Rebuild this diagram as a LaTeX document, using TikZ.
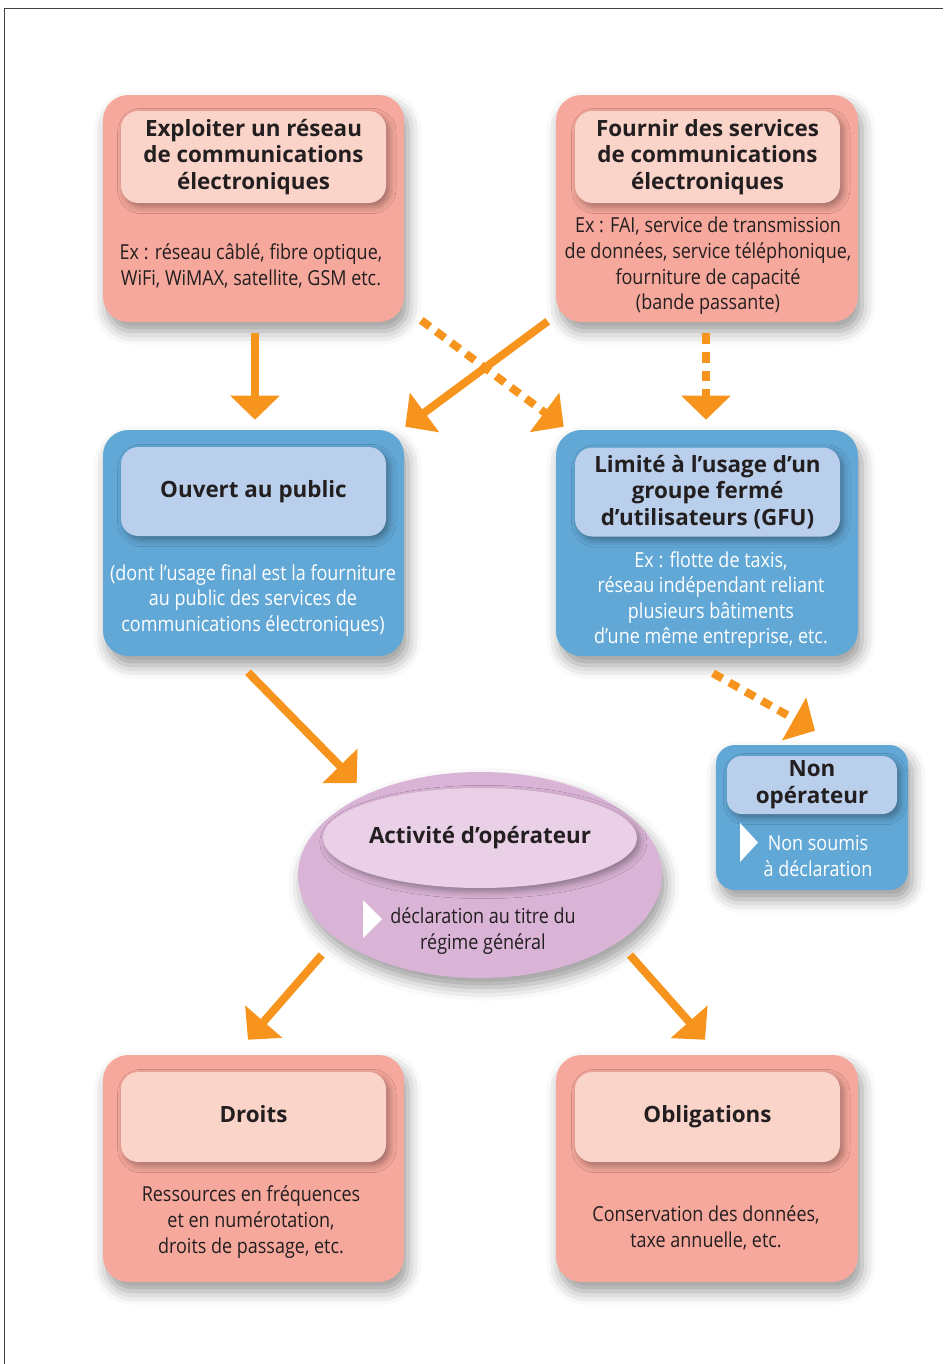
\documentclass[tikz,border=0pt]{standalone}
\usepackage{fontspec}
\setmainfont{Open Sans}
\newfontfamily\headfont{Open Sans}
\newfontfamily\bodyfont{Open Sans}[FakeStretch=0.87]
\usetikzlibrary{arrows.meta,shadows.blur,shapes.geometric}
\definecolor{salmonC}{HTML}{F6A89C}
\definecolor{pinkC}{HTML}{FAD3C9}
\definecolor{blueC}{HTML}{62A8D6}
\definecolor{lblueC}{HTML}{B9CFEB}
\definecolor{purpleC}{HTML}{DAB4D6}
\definecolor{lpurpleC}{HTML}{EAD0E6}
\definecolor{orangeC}{HTML}{F7941D}
\definecolor{textC}{HTML}{231F20}
\definecolor{borderC}{HTML}{404040}
\tikzset{
  sz/.style 2 args={minimum width={#1*0.75pt}, minimum height={#2*0.75pt}},
  bigshadow/.style={blur shadow={shadow xshift=3pt, shadow yshift=-7pt, shadow blur radius=10pt, shadow opacity=40}},
  smallshadow/.style={blur shadow={shadow xshift=2.5pt, shadow yshift=-3pt, shadow blur radius=5pt, shadow opacity=35}},
  outerbox/.style={rectangle, rounded corners=19pt, inner sep=0pt, bigshadow},
  innerbox/.style={rectangle, rounded corners=13pt, inner sep=0pt, smallshadow, align=center, text=textC,
     font=\headfont\bfseries\fontsize{16.8}{20}\selectfont},
  salmonbox/.style={outerbox, fill=salmonC},
  bluebox/.style={outerbox, fill=blueC},
  pinkhead/.style={innerbox, fill=pinkC},
  bluehead/.style={innerbox, fill=lblueC},
  bodytext/.style={align=center, inner sep=0pt, text=textC, font=\bodyfont\fontsize{15.5}{19.2}\selectfont},
  whitetext/.style={bodytext, text=white},
  arr/.style={draw=orangeC, line width=6pt, -{Triangle[width=36pt,length=18pt]}},
  dotarr/.style={arr, dash pattern=on 8pt off 6pt},
}
\begin{document}
\begin{tikzpicture}[x=0.75pt, y=-0.75pt]
\useasboundingbox (0,0) rectangle (943,1364);
\draw[borderC, line width=0.8pt] (4.5,1364) -- (4.5,8.5) -- (943,8.5);

% top row
\node[salmonbox, sz={301}{227}] (tl) at (253.5,208.5) {};
\node[pinkhead, sz={265}{92}] (tlh) at (253.5,157) {Exploiter un réseau\\de communications\\électroniques};
\node[bodytext] (tlb) at (251,266) {Ex : réseau câblé, fibre optique,\\WiFi, WiMAX, satellite, GSM etc.};

\node[salmonbox, sz={302}{227}] (tr) at (707,208.5) {};
\node[pinkhead, sz={265}{92}] (trh) at (707.5,157) {Fournir des services\\de communications\\électroniques};
\node[bodytext] (trb) at (708,266) {Ex : FAI, service de transmission\\de données, service téléphonique,\\fourniture de capacité\\(bande passante)};

% second row
\node[bluebox, sz={301}{226}] (bl) at (253.5,543) {};
\node[bluehead, sz={265}{89}] (blh) at (253.5,491.5) {Ouvert au public};
\node[whitetext] (blb) at (253,600.5) {(dont l’usage final est la fourniture\\au public des services de\\communications électroniques)};

\node[bluebox, sz={302}{226}] (br) at (707,543) {};
\node[bluehead, sz={265}{89}] (brh) at (707.5,492) {Limité à l’usage d’un\\groupe fermé\\d’utilisateurs (GFU)};
\node[whitetext] (brb) at (711,600) {Ex : flotte de taxis,\\réseau indépendant reliant\\plusieurs bâtiments\\d’une même entreprise, etc.};

% non operateur
\node[bluebox, rounded corners=14pt, sz={192}{145}] (nop) at (812,817.5) {};
\node[bluehead, rounded corners=11pt, sz={170}{58}] (noph) at (812,785) {Non\\opérateur};
\node[whitetext] (nopb) at (818,856) {Non soumis\\à déclaration};
\fill[white] (740,823) -- (758,842.5) -- (740,862) -- cycle;

% ellipse
\node[ellipse, fill=purpleC, inner sep=0pt, sz={364}{206}, bigshadow] (ell) at (480,875) {};
\node[ellipse, fill=lpurpleC, inner sep=0pt, sz={264}{100}, smallshadow, text=textC,
      font=\headfont\bfseries\fontsize{16.8}{20}\selectfont] (ellh) at (480,838) {Activité d’opérateur};
\node[bodytext] (ellb) at (483,931) {déclaration au titre du\\régime général};
\fill[white] (363,900) -- (382,919) -- (363,938) -- cycle;

% bottom row
\node[salmonbox, sz={301}{227}] (dl) at (253.5,1168.5) {};
\node[pinkhead, sz={265}{90}] (dlh) at (253.5,1117) {Droits\vphantom{g}};
\node[bodytext] (dlb) at (251,1222) {Ressources en fréquences\\et en numérotation,\\droits de passage, etc.};

\node[salmonbox, sz={302}{227}] (dr) at (707,1168.5) {};
\node[pinkhead, sz={265}{90}] (drh) at (707.5,1117) {Obligations};
\node[bodytext] (drb) at (706,1228) {Conservation des données,\\taxe annuelle, etc.};

% arrows
\draw[arr] ([shift={(1.5,11)}]tl.south) -- ([shift={(1.5,-10)}]bl.north);
\draw[dotarr] ([shift={(17,-2)}]tl.south east) -- ([shift={(8,-3)}]br.north west);
\draw[arr] ([shift={(-8,-1)}]tr.south west) -- ([shift={(1,-3)}]bl.north east);
\draw[dotarr] ([shift={(-1,11)}]tr.south) -- ([shift={(-1,-10)}]br.north);
\draw[arr] ([shift={(-5.5,16)}]bl.south) -- ([shift={(-123.3,-92)}]ell.center);
\draw[dotarr] ([shift={(6,17)}]br.south) -- ([shift={(3,-14)}]nop.north);
\draw[arr] ([shift={(-158.3,80)}]ell.center) -- ([shift={(-5.5,-15)}]dl.north);
\draw[arr] ([shift={(150,80)}]ell.center) -- ([shift={(-2,-15)}]dr.north);
\end{tikzpicture}
\end{document}
